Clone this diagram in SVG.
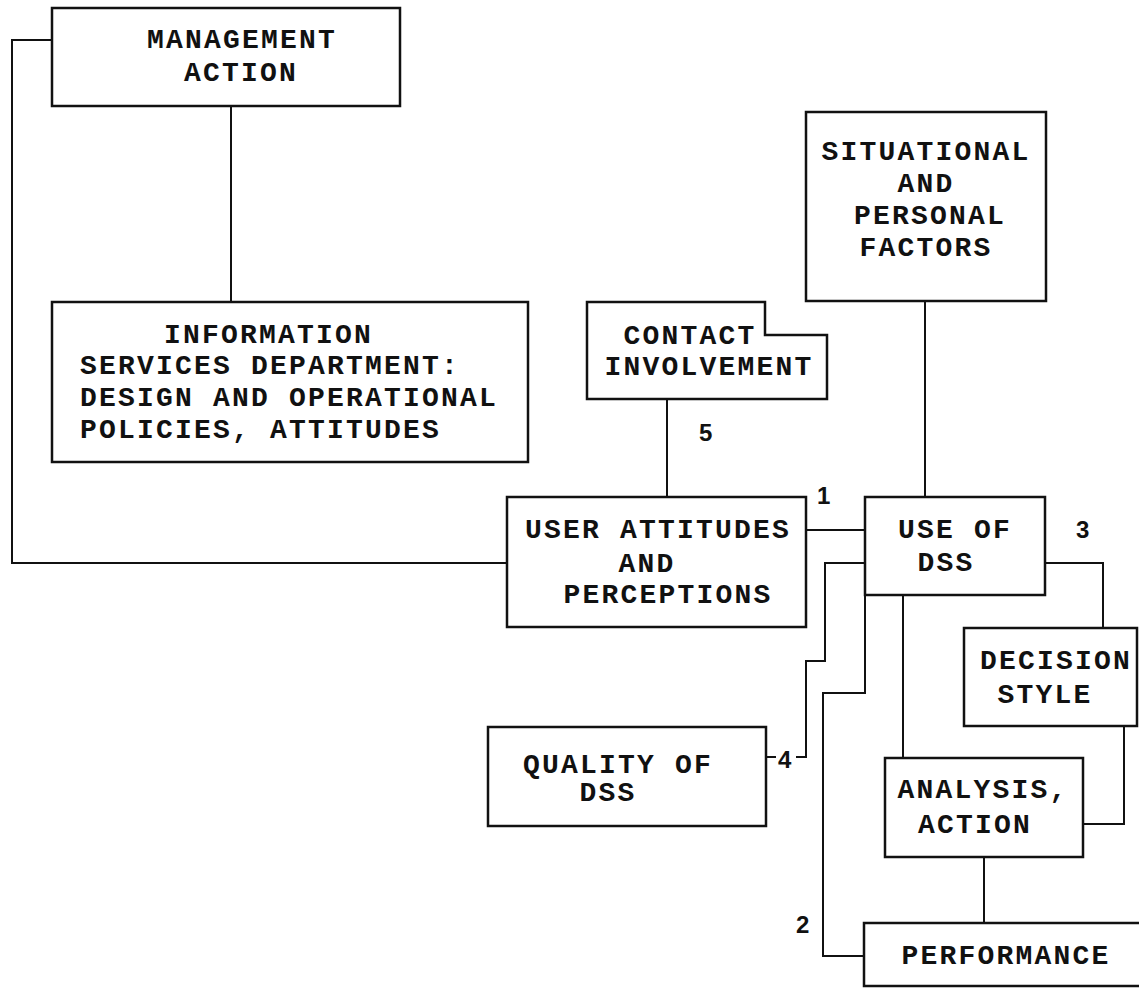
<svg xmlns="http://www.w3.org/2000/svg" width="1139" height="988" viewBox="0 0 1139 988">
<style>
.box{fill:#fff;stroke:#111;stroke-width:2.5}
.con{fill:none;stroke:#111;stroke-width:2}
.t{font-family:"Liberation Mono","DejaVu Sans Mono",monospace;font-weight:bold;font-size:28px;letter-spacing:2.2px;fill:#111;text-anchor:middle}
.s{text-anchor:start}
.n{font-family:"Liberation Sans","Arial",sans-serif;font-weight:bold;font-size:24px;fill:#111}
</style>
<rect width="1139" height="988" fill="#fff"/>
<g id="connectors">
<polyline class="con" points="52,40 12,40 12,563 507,563"/>
<line class="con" x1="231" y1="106" x2="231" y2="302"/>
<line class="con" x1="667" y1="399" x2="667" y2="497"/>
<line class="con" x1="925" y1="301" x2="925" y2="497"/>
<line class="con" x1="806" y1="530" x2="865" y2="530"/>
<polyline class="con" points="1045,563 1103,563 1103,628"/>
<polyline class="con" points="865,563 825,563 825,661 806,661 806,757 796,757"/>
<line class="con" x1="766" y1="757" x2="776" y2="757"/>
<polyline class="con" points="865,595 865,693 823,693 823,956 864,956"/>
<line class="con" x1="903" y1="595" x2="903" y2="758"/>
<polyline class="con" points="1083,824 1124,824 1124,726"/>
<line class="con" x1="984" y1="857" x2="984" y2="923"/>
</g>
<g id="management">
<rect class="box" x="52" y="8" width="348" height="98"/>
<text class="t" x="242" y="48">MANAGEMENT</text>
<text class="t" x="241" y="81">ACTION</text>
</g>
<g id="info-services">
<rect class="box" x="52" y="302" width="476" height="160"/>
<text class="t s" x="164" y="343">INFORMATION</text>
<text class="t s" x="80" y="374">SERVICES DEPARTMENT:</text>
<text class="t s" x="80" y="406">DESIGN AND OPERATIONAL</text>
<text class="t s" x="80" y="438">POLICIES, ATTITUDES</text>
</g>
<g id="situational">
<rect class="box" x="806" y="112" width="240" height="189"/>
<text class="t" x="926" y="160">SITUATIONAL</text>
<text class="t" x="926" y="192">AND</text>
<text class="t" x="930" y="224">PERSONAL</text>
<text class="t" x="926" y="256">FACTORS</text>
</g>
<g id="contact">
<polygon class="box" points="587,302 765,302 765,335 827,335 827,399 587,399"/>
<text class="t" x="690" y="344">CONTACT</text>
<text class="t" x="709" y="375">INVOLVEMENT</text>
</g>
<g id="user-attitudes">
<rect class="box" x="507" y="497" width="299" height="130"/>
<text class="t" x="658" y="538">USER ATTITUDES</text>
<text class="t" x="647" y="572">AND</text>
<text class="t" x="668" y="603">PERCEPTIONS</text>
</g>
<g id="use-of-dss">
<rect class="box" x="865" y="497" width="180" height="98"/>
<text class="t" x="955" y="538">USE OF</text>
<text class="t" x="946" y="571">DSS</text>
</g>
<g id="decision-style">
<rect class="box" x="964" y="628" width="173" height="98"/>
<text class="t" x="1056" y="669">DECISION</text>
<text class="t" x="1045" y="703">STYLE</text>
</g>
<g id="quality">
<rect class="box" x="488" y="727" width="278" height="99"/>
<text class="t" x="618" y="773">QUALITY OF</text>
<text class="t" x="608" y="801">DSS</text>
</g>
<g id="analysis">
<rect class="box" x="885" y="758" width="198" height="99"/>
<text class="t" x="983" y="798">ANALYSIS,</text>
<text class="t" x="975" y="833">ACTION</text>
</g>
<g id="performance">
<path class="box" d="M1141,923 H864 V986 H1141"/>
<text class="t" x="1006" y="964">PERFORMANCE</text>
</g>
<g id="labels">
<text class="n" x="699" y="441">5</text>
<text class="n" x="817" y="504">1</text>
<text class="n" x="1076" y="538">3</text>
<text class="n" x="778" y="768">4</text>
<text class="n" x="796" y="933">2</text>
</g>
</svg>
